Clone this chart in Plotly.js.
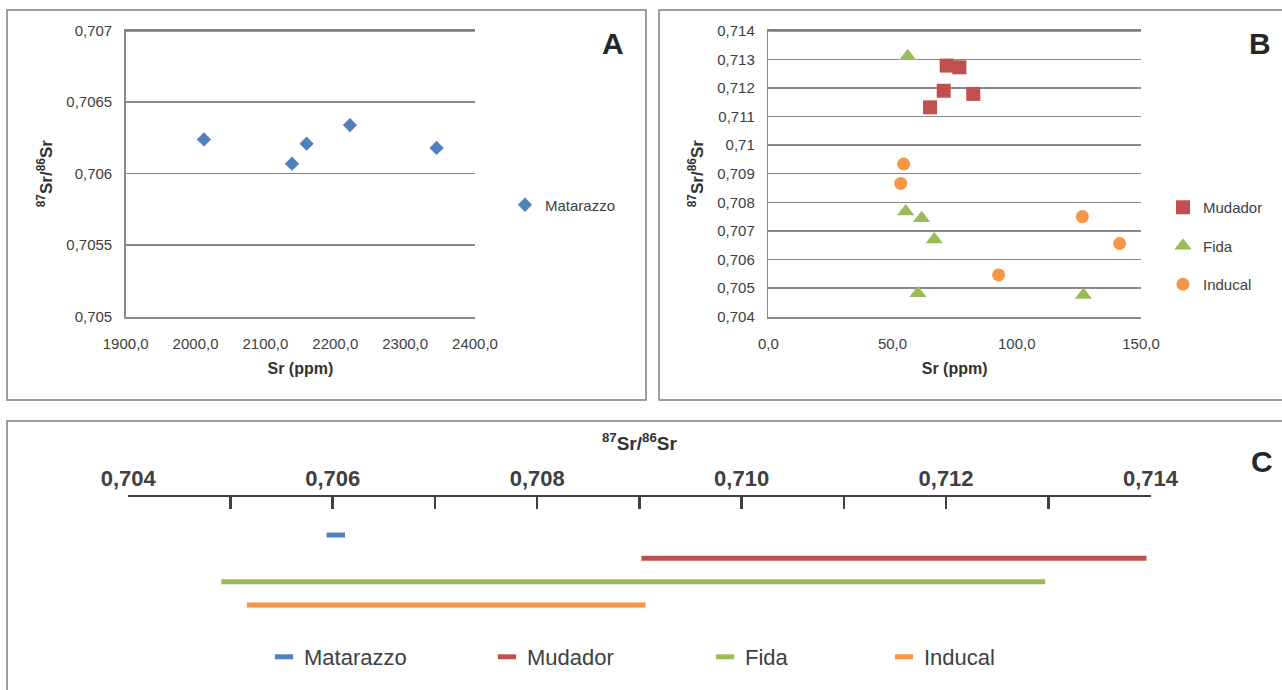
<!DOCTYPE html>
<html>
<head>
<meta charset="utf-8">
<script src="https://cdn.plot.ly/plotly-3.0.1.min.js"></script>
<style>
  html, body { margin: 0; padding: 0; background: #ffffff; }
  #chart { width: 1282px; height: 690px; }
</style>
</head>
<body>
<div id="chart"></div>
<script>
// ---------- Panel A : Matarazzo ----------
const aSr    = [2012, 2138, 2159, 2221, 2345];
const aRatio = [0.70624, 0.70607, 0.70621, 0.70634, 0.70618];

// ---------- Panel B ----------
const mudSr     = [71.8, 76.9, 70.6, 82.5, 65.1];
const mudRatio  = [0.71278, 0.71272, 0.71190, 0.71179, 0.71132];
const fidaSr    = [56.1, 55.3, 61.7, 66.8, 60.2, 126.8];
const fidaRatio = [0.71311, 0.70768, 0.70744, 0.70670, 0.70482, 0.70476];
const incSr     = [54.5, 53.3, 126.4, 141.4, 92.7];
const incRatio  = [0.70934, 0.70866, 0.70750, 0.70656, 0.70546];

// ---------- Panel C : ranges ----------
const cNames = ['Matarazzo', 'Mudador', 'Fida', 'Inducal'];
const cMin   = [0.70594, 0.70902, 0.70491, 0.70516];
const cMax   = [0.70612, 0.71396, 0.71297, 0.70906];

// axis ranges and tick labels
const aXRange = [1900, 2400], aYRange = [0.705, 0.707];
const bXRange = [0, 150],     bYRange = [0.704, 0.714];
const cTickVals = [0.704, 0.706, 0.708, 0.710, 0.712, 0.714];
const cTickText = ['0,704', '0,706', '0,708', '0,710', '0,712', '0,714'];

// ---------- styling ----------
const W = 1282, H = 690;
const px = v => v / W;
const py = v => 1 - v / H;
const BLUE = '#4F81BD', RED = '#C0504D', GREEN = '#9BBB59', ORANGE = '#F79646';
const cColors = [BLUE, RED, GREEN, ORANGE];
const TXT = '#404040';
const GRID = '#8a8a8a';
const BASE = 'Liberation Sans, Arial, sans-serif';
const RATIO_TITLE = '<sup>87</sup>Sr/<sup>86</sup>Sr';

const PLOT_TOP = 30.7, PLOT_BOT = 316.7;   // pixels
const aXDom = [px(125.7), px(475)];
const bXDom = [px(768.3), px(1141)];
const yDom = [py(PLOT_BOT), py(PLOT_TOP)];

const traces = [];

traces.push({
  type: 'scatter', mode: 'markers', x: aSr, y: aRatio, xaxis: 'x', yaxis: 'y',
  name: 'Matarazzo', legend: 'legend', cliponaxis: false,
  marker: { symbol: 'diamond', size: 11, color: BLUE }
});

traces.push({
  type: 'scatter', mode: 'markers', x: mudSr, y: mudRatio, xaxis: 'x2', yaxis: 'y2',
  name: 'Mudador', legend: 'legend2', legendgroup: 'g1', cliponaxis: false,
  marker: { symbol: 'square', size: 14, color: RED }
});
traces.push({
  type: 'scatter', mode: 'markers', x: fidaSr, y: fidaRatio, xaxis: 'x2', yaxis: 'y2',
  name: 'Fida', legend: 'legend2', legendgroup: 'g2', cliponaxis: false,
  marker: { symbol: 'triangle-up', size: 15, color: GREEN }
});
traces.push({
  type: 'scatter', mode: 'markers', x: incSr, y: incRatio, xaxis: 'x2', yaxis: 'y2',
  name: 'Inducal', legend: 'legend2', legendgroup: 'g3', cliponaxis: false,
  marker: { symbol: 'circle', size: 13, color: ORANGE }
});

cNames.forEach((n, i) => {
  traces.push({
    type: 'scatter', mode: 'lines', x: [cMin[i], cMax[i]], y: [i, i],
    xaxis: 'x3', yaxis: 'y3', name: n, showlegend: false,
    line: { color: cColors[i], width: 5 }
  });
});
cNames.forEach((n, i) => {
  traces.push({
    type: 'scatter', mode: 'markers', x: [null], y: [null],
    xaxis: 'x3', yaxis: 'y3', name: n, showlegend: true,
    legend: 'legend' + (i + 3),
    marker: { symbol: 'line-ew', size: 13, color: cColors[i], line: { color: cColors[i], width: 5 } }
  });
});

const tickFont = { family: BASE, size: 15, color: TXT };
const axTitleFont = { family: BASE, size: 16, color: '#333333', weight: 'bold' };
const yTitleFont = { family: BASE, size: 17, color: '#333333', weight: 'bold' };

const legendBase = {
  bgcolor: 'rgba(0,0,0,0)', borderwidth: 0, xanchor: 'left', yanchor: 'middle',
  font: { family: BASE, size: 15, color: TXT }
};
const cLegX = [264, 487, 705, 884];

// x axes of A and B: line on bottom and mirrored on top (top gridline)
const xBase = {
  tickformat: '.1f', showgrid: false, zeroline: false, showline: true, mirror: 'all',
  linecolor: GRID, linewidth: 2,
  ticks: 'outside', ticklen: 12, tickcolor: 'rgba(0,0,0,0)', tickfont: tickFont,
  title: { text: 'Sr (ppm)', font: axTitleFont, standoff: 12 }
};
const yBase = {
  showgrid: true, gridcolor: GRID, gridwidth: 1.5, zeroline: false,
  showline: true, linecolor: GRID, linewidth: 1.5,
  ticks: 'outside', ticklen: 9, tickcolor: 'rgba(0,0,0,0)', tickfont: tickFont,
  title: { text: RATIO_TITLE, font: yTitleFont, standoff: 9 }
};

const layout = {
  width: W, height: H,
  margin: { l: 0, r: 0, t: 0, b: 0 },
  paper_bgcolor: '#ffffff', plot_bgcolor: 'rgba(0,0,0,0)',
  separators: ',.',
  showlegend: true,
  hovermode: false,
  xaxis: Object.assign({}, xBase, { domain: aXDom, anchor: 'y', range: aXRange, dtick: 100, tick0: 1900 }),
  yaxis: Object.assign({}, yBase, { domain: yDom, anchor: 'x', range: aYRange, dtick: 0.0005, tick0: 0.705 }),
  xaxis2: Object.assign({}, xBase, { domain: bXDom, anchor: 'y2', range: bXRange, dtick: 50, tick0: 0 }),
  yaxis2: Object.assign({}, yBase, { domain: yDom, anchor: 'x2', range: bYRange, dtick: 0.001, tick0: 0.704 }),
  xaxis3: {
    domain: [px(128.3), px(1150.5)], anchor: 'y3', side: 'top', range: [0.704, 0.714],
    tickmode: 'array', tickvals: cTickVals, ticktext: cTickText,
    showgrid: false, zeroline: false, showline: true, linecolor: '#404040', linewidth: 2.5,
    ticks: 'inside', ticklen: 12, tickwidth: 2.5, tickcolor: '#404040',
    minor: { tickmode: 'linear', tick0: 0.704, dtick: 0.001, ticks: 'inside', ticklen: 12,
             tickwidth: 2.5, tickcolor: '#404040', showgrid: false },
    tickfont: { family: BASE, size: 22, color: TXT, weight: 'bold' },
    title: { text: RATIO_TITLE, font: { family: BASE, size: 19, color: '#333333', weight: 'bold' }, standoff: 10 }
  },
  yaxis3: {
    domain: [py(630), py(497)], anchor: 'x3', range: [4.071, -1.629], visible: false
  },
  legend: Object.assign({}, legendBase, { x: px(505), y: py(205) }),
  legend2: Object.assign({}, legendBase, { x: px(1163), y: py(246), tracegroupgap: 16 }),
  annotations: [
    { text: 'A', x: px(613), y: py(43), xref: 'paper', yref: 'paper', showarrow: false,
      xanchor: 'center', yanchor: 'middle', font: { family: BASE, size: 30, color: '#262626', weight: 'bold' } },
    { text: 'B', x: px(1260), y: py(43), xref: 'paper', yref: 'paper', showarrow: false,
      xanchor: 'center', yanchor: 'middle', font: { family: BASE, size: 30, color: '#262626', weight: 'bold' } },
    { text: 'C', x: px(1262), y: py(461), xref: 'paper', yref: 'paper', showarrow: false,
      xanchor: 'center', yanchor: 'middle', font: { family: BASE, size: 30, color: '#262626', weight: 'bold' } }
  ],
  shapes: [
    // top gridlines of A and B, drawn as explicit lines as well
    { type: 'line', xref: 'paper', yref: 'paper', x0: aXDom[0], x1: aXDom[1], y0: yDom[1], y1: yDom[1],
      line: { color: '#7a7a7a', width: 2 }, layer: 'above' },
    { type: 'line', xref: 'paper', yref: 'paper', x0: bXDom[0], x1: bXDom[1], y0: yDom[1], y1: yDom[1],
      line: { color: '#7a7a7a', width: 2 }, layer: 'above' },
    // panel frames
    { type: 'rect', xref: 'paper', yref: 'paper', x0: px(7), x1: px(646), y0: py(400), y1: py(10),
      line: { color: '#7f7f7f', width: 1.5 }, layer: 'below' },
    { type: 'rect', xref: 'paper', yref: 'paper', x0: px(659), x1: 1.01, y0: py(400), y1: py(10),
      line: { color: '#7f7f7f', width: 1.5 }, layer: 'below' },
    { type: 'rect', xref: 'paper', yref: 'paper', x0: px(7), x1: 1.01, y0: -0.01, y1: py(421),
      line: { color: '#7f7f7f', width: 1.5 }, layer: 'below' }
  ]
};
cLegX.forEach((x, i) => {
  layout['legend' + (i + 3)] = Object.assign({}, legendBase, {
    x: px(x), y: py(657),
    font: { family: BASE, size: 22, color: TXT }
  });
});

Plotly.newPlot('chart', traces, layout, { staticPlot: true, displayModeBar: false });
</script>
</body>
</html>
